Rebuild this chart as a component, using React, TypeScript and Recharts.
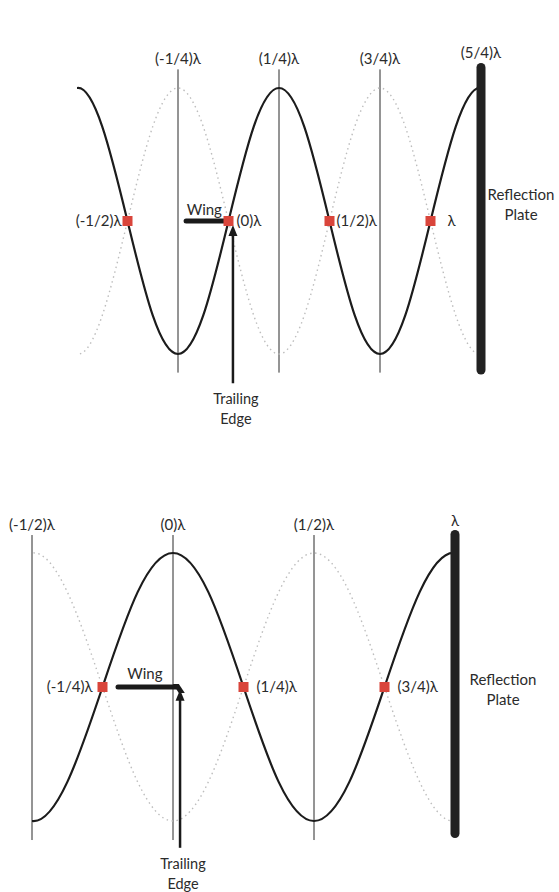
import React from 'react'
import { ComposedChart, Line, XAxis, YAxis, ReferenceLine, ReferenceDot } from 'recharts'

// wave samples, x in wavelengths, y in amplitude units
// (one extra sample each side so the curve is smooth where the plot area clips it)
const topX = [-0.875, -0.75, -0.625, -0.5, -0.375, -0.25, -0.125, 0, 0.125, 0.25, 0.375, 0.5, 0.625, 0.75, 0.875, 1, 1.125, 1.25, 1.375]
const topIncident = [0.71, 1, 0.71, 0, -0.71, -1, -0.71, 0, 0.71, 1, 0.71, 0, -0.71, -1, -0.71, 0, 0.71, 1, 0.71]
const topReflected = [-0.71, -1, -0.71, 0, 0.71, 1, 0.71, 0, -0.71, -1, -0.71, 0, 0.71, 1, 0.71, 0, -0.71, -1, -0.71]

const bottomX = [-0.625, -0.5, -0.375, -0.25, -0.125, 0, 0.125, 0.25, 0.375, 0.5, 0.625, 0.75, 0.875, 1, 1.125]
const bottomIncident = [-0.71, -1, -0.71, 0, 0.71, 1, 0.71, 0, -0.71, -1, -0.71, 0, 0.71, 1, 0.71]
const bottomReflected = [0.71, 1, 0.71, 0, -0.71, -1, -0.71, 0, 0.71, 1, 0.71, 0, -0.71, -1, -0.71]

// vertical guides + tick labels
const topGuides = [-0.25, 0.25, 0.75]
const topGuideLabels = ['(-1/4)λ', '(1/4)λ', '(3/4)λ']
const topPlateX = 1.25
const topPlateLabel = '(5/4)λ'

const bottomGuides = [-0.5, 0, 0.5]
const bottomGuideLabels = ['(-1/2)λ', '(0)λ', '(1/2)λ']
const bottomPlateX = 1
const bottomPlateLabel = 'λ'

// node markers
const topNodes = [-0.5, 0, 0.5, 1]
const topNodeLabels = ['(-1/2)λ', '(0)λ', '(1/2)λ', 'λ']
const topNodeSide = ['left', 'right', 'right', 'right']
const topNodeGap = [1, 3, 2, 12]

const bottomNodes = [-0.25, 0.25, 0.75]
const bottomNodeLabels = ['(-1/4)λ', '(1/4)λ', '(3/4)λ']
const bottomNodeSide = ['left', 'right', 'right']
const bottomNodeGap = [5, 8, 8]

const FONT = 'Lato, "Open Sans", sans-serif'
const FS = 15
const TXT = '#2b2b2b'

const toRows = (xs: number[], a: number[], b: number[]) =>
  xs.map((x, i) => ({ x, inc: a[i], refl: b[i] }))

const NodeSquare = (p: any) => (
  <rect x={p.cx - 5} y={p.cy - 5} width={10} height={10} fill="#d9453b" />
)

const makePlate = (dx: number, dy1: number, dy2: number, midY: number) => (p: any) => {
  const { x1, y1, x2, y2 } = p
  return (
    <g>
      <line x1={x1} y1={y1} x2={x2} y2={y2} stroke="#222" strokeWidth={9} strokeLinecap="round" />
      <text x={x1 + dx} y={midY + dy1} textAnchor="middle" fontFamily={FONT} fontSize={FS} fill={TXT}>Reflection</text>
      <text x={x1 + dx} y={midY + dy2} textAnchor="middle" fontFamily={FONT} fontSize={FS} fill={TXT}>Plate</text>
    </g>
  )
}

const makeWing = (textDx: number, textDy: number, hook: boolean) => (p: any) => {
  const { x1, y1, x2 } = p
  return (
    <g>
      <line x1={x1} y1={y1} x2={x2} y2={y1} stroke="#1a1a1a" strokeWidth={5} strokeLinecap="round" />
      {hook && (
        <polygon points={`${x2 - 3},${y1 - 3} ${x2 + 3},${y1 - 3} ${x2 + 9},${y1 + 6} ${x2 + 3},${y1 + 6}`} fill="#1a1a1a" />
      )}
      <text x={(x1 + x2) / 2 + textDx} y={y1 + textDy} textAnchor="middle" fontFamily={FONT} fontSize={FS} fill={TXT}>Wing</text>
    </g>
  )
}

const ArrowUp = (p: any) => {
  const { x1, y1, x2, y2 } = p
  return (
    <g>
      <line x1={x1} y1={y1} x2={x2} y2={y2 + 8} stroke="#1a1a1a" strokeWidth={2.5} />
      <polygon points={`${x2},${y2} ${x2 - 4.5},${y2 + 11} ${x2 + 4.5},${y2 + 11}`} fill="#1a1a1a" />
      <text x={x1 + 3} y={y1 + 21} textAnchor="middle" fontFamily={FONT} fontSize={14.5} fill={TXT}>Trailing</text>
      <text x={x1 + 3} y={y1 + 41} textAnchor="middle" fontFamily={FONT} fontSize={14.5} fill={TXT}>Edge</text>
    </g>
  )
}

const topLabel = (value: string, offset: number) => ({
  value, position: 'top' as const, offset, fill: TXT, fontSize: FS, fontFamily: FONT,
})

function WaveDiagram(props: any) {
  const {
    rows, domain, width, height, margin, guides, guideLabels, guideTop, guideBottom,
    plateX, plateTop, plateBottom, plateLabel, plateShape,
    nodes, nodeLabels, nodeSide, nodeGap,
    wing, wingShape, arrow,
  } = props
  return (
    <ComposedChart width={width} height={height} data={rows} margin={margin}>
      <XAxis dataKey="x" type="number" domain={domain} hide allowDataOverflow />
      <YAxis type="number" domain={[-1.2, 1.2]} hide allowDataOverflow />
      {guides.map((g: number, i: number) => (
        <ReferenceLine
          key={'g' + i}
          segment={[{ x: g, y: guideTop }, { x: g, y: guideBottom }]}
          stroke="#2a2a2a"
          strokeWidth={1}
          ifOverflow="visible"
          label={topLabel(guideLabels[i], 5)}
        />
      ))}
      <Line dataKey="refl" type="natural" stroke="#bdbdbd" strokeWidth={1.4} strokeDasharray="1.5 3.5" dot={false} isAnimationActive={false} />
      <Line dataKey="inc" type="natural" stroke="#1c1c1c" strokeWidth={2.2} dot={false} isAnimationActive={false} />
      <ReferenceLine
        segment={[{ x: plateX, y: plateTop }, { x: plateX, y: plateBottom }]}
        ifOverflow="visible"
        shape={plateShape}
        label={topLabel(plateLabel, 9)}
      />
      <ReferenceLine
        segment={[{ x: wing[0], y: 0 }, { x: wing[1], y: 0 }]}
        ifOverflow="visible"
        shape={wingShape}
      />
      <ReferenceLine
        segment={[{ x: arrow[0], y: arrow[1] }, { x: arrow[0], y: arrow[2] }]}
        ifOverflow="visible"
        shape={ArrowUp}
      />
      {nodes.map((n: number, i: number) => (
        <ReferenceDot
          key={'n' + i}
          x={n}
          y={0}
          r={5}
          ifOverflow="visible"
          shape={NodeSquare}
          label={{ value: nodeLabels[i], position: nodeSide[i], offset: nodeGap[i], fill: TXT, fontSize: FS, fontFamily: FONT }}
        />
      ))}
    </ComposedChart>
  )
}

export default function App() {
  return (
    <div style={{ position: 'absolute', left: 0, top: 0, width: 559, height: 892, background: '#fff', overflow: 'hidden' }}>
      <div style={{ position: 'absolute', left: 0, top: 0 }}>
        <WaveDiagram
          rows={toRows(topX, topIncident, topReflected)}
          domain={[-0.75, 1.25]}
          width={559}
          height={440}
          margin={{ top: 61.4, right: 78, bottom: 59.4, left: 77 }}
          guides={topGuides}
          guideLabels={topGuideLabels}
          guideTop={1.14}
          guideBottom={-1.14}
          plateX={topPlateX}
          plateTop={1.155}
          plateBottom={-1.12}
          plateLabel={topPlateLabel}
          plateShape={makePlate(40, -21, -1, 221)}
          nodes={topNodes}
          nodeLabels={topNodeLabels}
          nodeSide={topNodeSide}
          nodeGap={topNodeGap}
          wing={[-0.21, 0]}
          wingShape={makeWing(-3, -6, false)}
          arrow={[0.022, -1.22, -0.03]}
        />
      </div>
      <div style={{ position: 'absolute', left: 0, top: 450 }}>
        <WaveDiagram
          rows={toRows(bottomX, bottomIncident, bottomReflected)}
          domain={[-0.5, 1]}
          width={559}
          height={442}
          margin={{ top: 76.2, right: 104, bottom: 44.2, left: 32 }}
          guides={bottomGuides}
          guideLabels={bottomGuideLabels}
          guideTop={1.134}
          guideBottom={-1.142}
          plateX={bottomPlateX}
          plateTop={1.138}
          plateBottom={-1.094}
          plateLabel={bottomPlateLabel}
          plateShape={makePlate(48, -2, 18, 237)}
          nodes={bottomNodes}
          nodeLabels={bottomNodeLabels}
          nodeSide={bottomNodeSide}
          nodeGap={bottomNodeGap}
          wing={[-0.195, 0.01]}
          wingShape={makeWing(-2, -8, true)}
          arrow={[0.025, -1.2, -0.02]}
        />
      </div>
    </div>
  )
}
